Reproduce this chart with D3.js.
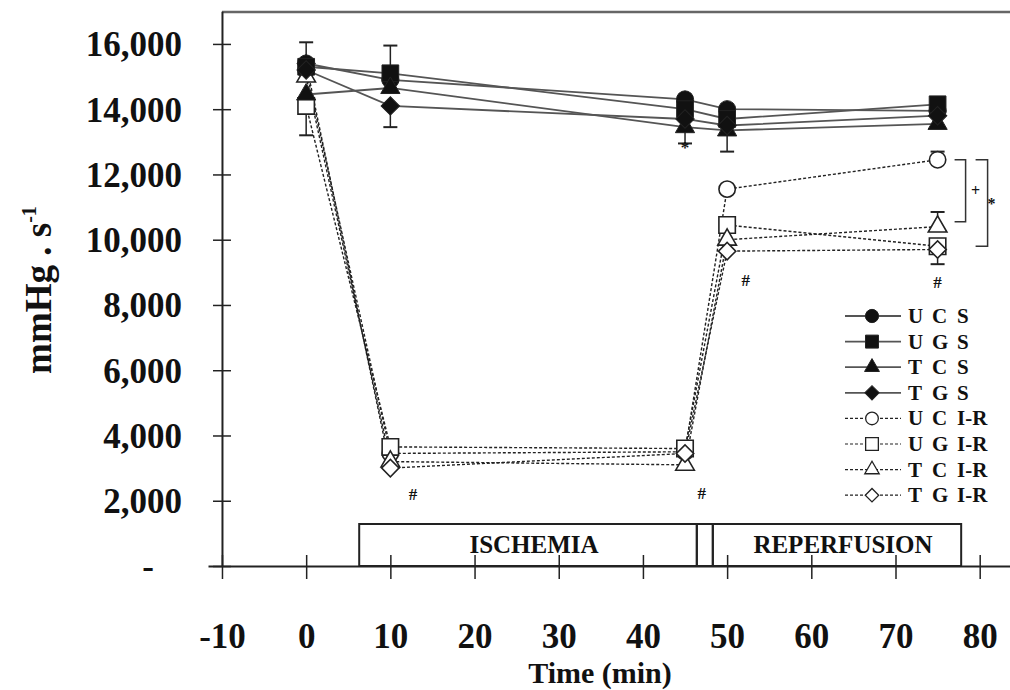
<!DOCTYPE html>
<html>
<head>
<meta charset="utf-8">
<script src="https://cdn.jsdelivr.net/npm/d3@7/dist/d3.min.js"></script>
<style>
  body { margin: 0; background: #fff; }
  svg { display: block; }
  text { font-family: "Liberation Serif", "Times New Roman", serif; font-weight: bold; fill: #111; }
</style>
</head>
<body>
<div id="chart"></div>
<script>
// time points (min)
var times = [0, 10, 45, 50, 75];

// series values (mmHg.s-1)
var UCS  = [15400, 14900, 14300, 14000, 13950];
var UGS  = [15300, 15100, 14000, 13700, 14150];
var TCS  = [14450, 14650, 13450, 13350, 13550];
var TGS  = [15200, 14100, 13700, 13500, 13800];
var UCIR = [15200, 3450, 3500, 11550, 12450];
var UGIR = [14100, 3650, 3600, 10450, 9800];
var TCIR = [15000, 3200, 3100, 10000, 10400];
var TGIR = [15400, 3000, 3450, 9650, 9700];

// error bars, signed (+ drawn up, - drawn down)
var UCS_err  = [650, 0, 0, 0, 0];
var UGS_err  = [0, 850, 0, 0, 0];
var TCS_err  = [0, 0, -500, -650, 0];
var TGS_err  = [0, -650, 0, 0, 0];
var UCIR_err = [0, 0, 0, 0, 250];
var UGIR_err = [-900, 0, 0, 0, -550];
var TCIR_err = [0, 0, 0, 0, 450];
var TGIR_err = [0, 0, 0, 0, 0];

var seriesNames = ["U C S", "U G S", "T C S", "T G S", "U C I-R", "U G I-R", "T C I-R", "T G I-R"];

// tick labels
var xTicks = [-10, 0, 10, 20, 30, 40, 50, 60, 70, 80];
var yTicks = [0, 2000, 4000, 6000, 8000, 10000, 12000, 14000, 16000];
var yTickLabels = ["-", "2,000", "4,000", "6,000", "8,000", "10,000", "12,000", "14,000", "16,000"];

// protocol phases
var phaseStart = [6.3, 46.4, 48.3];
var phaseEnd   = [46.4, 48.3, 77.8];
var phaseLabel = ["ISCHEMIA", "", "REPERFUSION"];

// significance marks
var markText = ["#", "#", "#", "#", "*"];
var markT    = [12.7, 47.0, 52.2, 75, 45];
var markV    = [2200, 2250, 8750, 8700, 12850];

var W = 1010, H = 690;
var svg = d3.select("#chart").append("svg").attr("width", W).attr("height", H);

var x = d3.scaleLinear().domain([-11.66, 83.6]).range([208, 1010]);
var y = d3.scaleLinear().domain([0, 17000]).range([566, 11.3]);

// frame top
svg.append("line")
  .attr("x1", x(-10)).attr("x2", W).attr("y1", 12).attr("y2", 12)
  .attr("stroke", "#666").attr("stroke-width", 2.5);

// phase boxes
var boxH = 42;
for (var p = 0; p < phaseStart.length; p++) {
  svg.append("rect")
    .attr("x", x(phaseStart[p])).attr("y", y(0) - boxH)
    .attr("width", x(phaseEnd[p]) - x(phaseStart[p])).attr("height", boxH)
    .attr("fill", "none").attr("stroke", "#222").attr("stroke-width", 2);
  if (phaseLabel[p]) {
    svg.append("text")
      .attr("x", (x(phaseStart[p]) + x(phaseEnd[p])) / 2 + 6)
      .attr("y", y(0) - 13)
      .attr("text-anchor", "middle")
      .attr("font-size", 25)
      .text(phaseLabel[p]);
  }
}

// x axis
var xAxis = svg.append("g")
  .attr("transform", "translate(0," + y(0) + ")")
  .call(d3.axisBottom(x).tickValues(xTicks).tickSize(24).tickSizeOuter(0)
    .tickFormat(function (d) { return String(d); }));
xAxis.select(".domain").attr("stroke", "#222").attr("stroke-width", 2);
xAxis.selectAll(".tick line").attr("transform", "translate(0,-11)").attr("stroke", "#222").attr("stroke-width", 1.5);
xAxis.selectAll(".tick text")
  .attr("y", 57).attr("font-size", 35)
  .attr("font-family", "'Liberation Serif', 'Times New Roman', serif").attr("font-weight", "bold").attr("fill", "#111");

// y axis
var yAxis = svg.append("g")
  .attr("transform", "translate(" + x(-10) + ",0)")
  .call(d3.axisLeft(y).tickValues(yTicks).tickSize(18).tickSizeOuter(0)
    .tickFormat(function (d, i) { return yTickLabels[i]; }));
yAxis.select(".domain").attr("stroke", "#222").attr("stroke-width", 2);
yAxis.selectAll(".tick line").attr("transform", "translate(9,0)").attr("stroke", "#222").attr("stroke-width", 1.5);
yAxis.selectAll(".tick text")
  .attr("x", -40).attr("dy", "0.34em").attr("font-size", 35)
  .attr("font-family", "'Liberation Serif', 'Times New Roman', serif").attr("font-weight", "bold").attr("fill", "#111");
yAxis.selectAll(".tick text").filter(function (d) { return d === 0; }).attr("x", -68);

// axis titles
svg.append("text")
  .attr("x", 600).attr("y", 683)
  .attr("text-anchor", "middle").attr("font-size", 30)
  .text("Time (min)");

var yl = svg.append("text")
  .attr("transform", "translate(51,290) rotate(-90)")
  .attr("text-anchor", "middle").attr("font-size", 37);
yl.append("tspan").text("mmHg . s");
yl.append("tspan").attr("dy", -15).attr("font-size", 20).text("-1");

// series
var values = [UCS, UGS, TCS, TGS, UCIR, UGIR, TCIR, TGIR];
var errs = [UCS_err, UGS_err, TCS_err, TGS_err, UCIR_err, UGIR_err, TCIR_err, TGIR_err];
var shapes = [d3.symbolCircle, d3.symbolSquare, d3.symbolTriangle, d3.symbolSquare,
              d3.symbolCircle, d3.symbolSquare, d3.symbolTriangle, d3.symbolSquare];
var sizes = [230, 280, 160, 170, 210, 270, 150, 150];
var rotate = [0, 0, 0, 45, 0, 0, 0, 45];

function isOpen(i) { return i >= 4; }

var line = d3.line().x(function (d, j) { return x(times[j]); }).y(function (d) { return y(d); });

// dashed first, then solid
for (var i = 7; i >= 0; i--) {
  svg.append("path")
    .datum(values[i])
    .attr("d", line)
    .attr("fill", "none")
    .attr("stroke", isOpen(i) ? "#222" : "#555")
    .attr("stroke-width", isOpen(i) ? 1.4 : 1.8)
    .attr("stroke-dasharray", isOpen(i) ? "3,2" : null);
}

// error bars
for (var i = 0; i < 8; i++) {
  for (var j = 0; j < times.length; j++) {
    var e = errs[i][j];
    if (!e) continue;
    var cx = x(times[j]), y0 = y(values[i][j]), y1 = y(values[i][j] + e);
    svg.append("line").attr("x1", cx).attr("x2", cx).attr("y1", y0).attr("y2", y1)
      .attr("stroke", "#222").attr("stroke-width", 1.5);
    svg.append("line").attr("x1", cx - 7).attr("x2", cx + 7).attr("y1", y1).attr("y2", y1)
      .attr("stroke", "#222").attr("stroke-width", 2);
  }
}

// markers (open ones first, filled on top)
var order = [4, 5, 6, 7, 0, 1, 2, 3];
order.forEach(function (i) {
  var sym = d3.symbol().type(shapes[i]).size(sizes[i]);
  svg.append("g").selectAll("path")
    .data(values[i])
    .join("path")
    .attr("d", sym)
    .attr("transform", function (d, j) {
      return "translate(" + x(times[j]) + "," + y(d) + ") rotate(" + rotate[i] + ")";
    })
    .attr("fill", isOpen(i) ? "#fff" : "#111")
    .attr("stroke", "#222")
    .attr("stroke-width", isOpen(i) ? 1.6 : 1);
});

// significance marks
for (var k = 0; k < markText.length; k++) {
  svg.append("text")
    .attr("x", x(markT[k])).attr("y", y(markV[k]))
    .attr("text-anchor", "middle").attr("dy", "0.35em")
    .attr("font-size", 17).attr("font-weight", "normal")
    .text(markText[k]);
}

// brackets between UCIR and TCIR / UGIR at t = 75
var bx = x(75);
function bracket(v1, v2, xl, xr, sym, sx) {
  var p = d3.path();
  p.moveTo(xl, y(v1)); p.lineTo(xr, y(v1)); p.lineTo(xr, y(v2)); p.lineTo(xl, y(v2));
  svg.append("path").attr("d", p.toString()).attr("fill", "none")
    .attr("stroke", "#333").attr("stroke-width", 1.5);
  svg.append("text").attr("x", sx).attr("y", (y(v1) + y(v2)) / 2)
    .attr("dy", "0.35em").attr("text-anchor", "middle")
    .attr("font-size", 16).attr("font-weight", "normal").text(sym);
}
bracket(UCIR[4], TCIR[4] + 150, bx + 17, bx + 28, "+", bx + 38);
bracket(UCIR[4], UGIR[4], bx + 38, bx + 50, "*", bx + 54);

// legend
var lgY0 = 316, lgDy = 25.6;
for (var i = 0; i < 8; i++) {
  var ly = lgY0 + i * lgDy;
  svg.append("line").attr("x1", 845).attr("x2", 901).attr("y1", ly).attr("y2", ly)
    .attr("stroke", isOpen(i) ? "#222" : "#555")
    .attr("stroke-width", isOpen(i) ? 1.2 : 1.8)
    .attr("stroke-dasharray", isOpen(i) ? "3,2" : null);
  svg.append("path")
    .attr("d", d3.symbol().type(shapes[i]).size(sizes[i] * 0.6))
    .attr("transform", "translate(872," + ly + ") rotate(" + rotate[i] + ")")
    .attr("fill", isOpen(i) ? "#fff" : "#111")
    .attr("stroke", "#222").attr("stroke-width", isOpen(i) ? 1.3 : 1);
  var parts = seriesNames[i].split(" ");
  var cols = [908, 932, 957];
  for (var c = 0; c < parts.length; c++) {
    svg.append("text").attr("x", cols[c]).attr("y", ly + 7)
      .attr("font-size", 21).text(parts[c]);
  }
}
</script>
</body>
</html>
